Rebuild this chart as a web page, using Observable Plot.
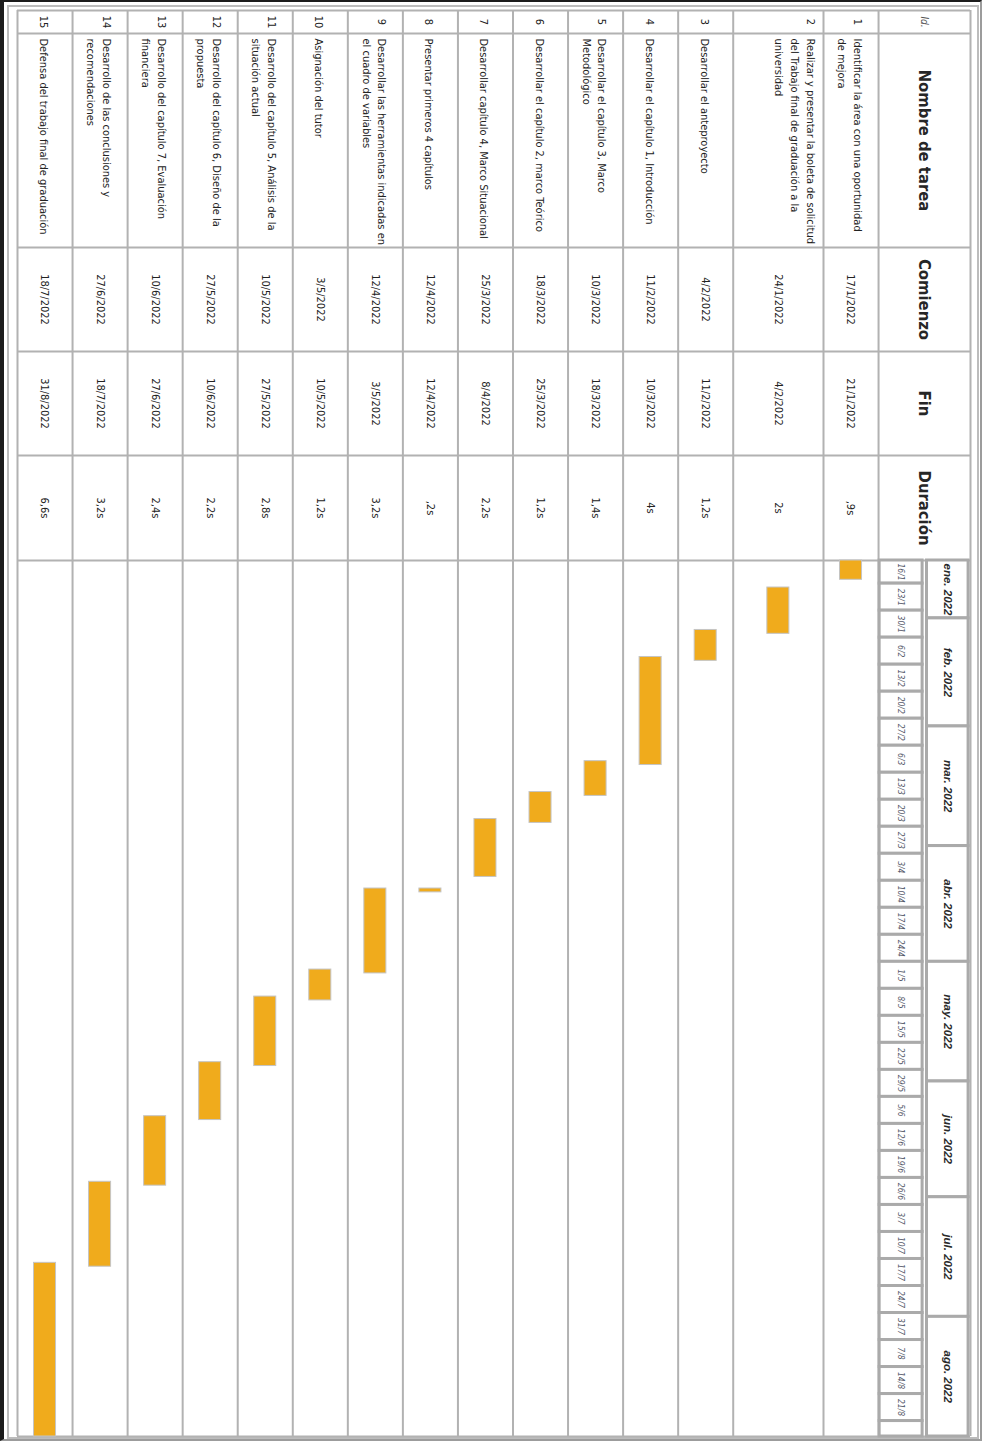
<!DOCTYPE html>
<html><head><meta charset="utf-8">
<script src="https://cdn.jsdelivr.net/npm/d3@7"></script>
<script src="https://cdn.jsdelivr.net/npm/@observablehq/plot@0.6"></script>
<style>
body{margin:0;background:#fff;}
#wrap{position:relative;width:984px;height:1441px;overflow:hidden;background:#fff;}
#wrap svg{position:absolute;left:0;top:0;}
.fr{position:absolute;box-sizing:border-box;}
</style></head><body><div id="wrap">
<div class="fr" style="left:0;top:0;width:982px;height:1441px;border-left:4px solid #1c1c1c;border-top:2px solid #1c1c1c;border-right:2px solid #9c9c9c;border-bottom:2px solid #9c9c9c;"></div>
<div class="fr" style="left:7px;top:5px;width:972px;height:1434px;border:2px solid #bcbcbc;"></div>
</div>
<script>
// ---------- data ----------
const ids = [1,2,3,4,5,6,7,8,9,10,11,12,13,14,15];
const taskNames = [
  "Identificar la área con una oportunidad\nde mejora",
  "Realizar y presentar la boleta de solicitud\ndel Trabajo final de graduación a la\nuniversidad",
  "Desarrollar el anteproyecto",
  "Desarrollar el capítulo 1, Introducción",
  "Desarrollar el capítulo 3, Marco\nMetodológico",
  "Desarrollar el capítulo 2, marco Teórico",
  "Desarrollar capítulo 4, Marco Situacional",
  "Presentar primeros 4 capítulos",
  "Desarrollar las herramientas indicadas en\nel cuadro de variables",
  "Asignación del tutor",
  "Desarrollo del capítulo 5, Análisis de la\nsituación actual",
  "Desarrollo del capítulo 6, Diseño de la\npropuesta",
  "Desarrollo del capítulo 7, Evaluación\nfinanciera",
  "Desarrollo de las conclusiones y\nrecomendaciones",
  "Defensa del trabajo final de graduación"
];
const startDates = ["17/1/2022","24/1/2022","4/2/2022","11/2/2022","10/3/2022","18/3/2022","25/3/2022","12/4/2022","12/4/2022","3/5/2022","10/5/2022","27/5/2022","10/6/2022","27/6/2022","18/7/2022"];
const endDates = ["21/1/2022","4/2/2022","11/2/2022","10/3/2022","18/3/2022","25/3/2022","8/4/2022","12/4/2022","3/5/2022","10/5/2022","27/5/2022","10/6/2022","27/6/2022","18/7/2022","31/8/2022"];
const durations = [",9s","2s","1,2s","4s","1,4s","1,2s","2,2s",",2s","3,2s","1,2s","2,8s","2,2s","2,4s","3,2s","6,6s"];
const columnHeaders = ["Id.", "Nombre de tarea", "Comienzo", "Fin", "Duración"];
const monthLabels = ["ene. 2022","feb. 2022","mar. 2022","abr. 2022","may. 2022","jun. 2022","jul. 2022","ago. 2022"];
const monthStarts = ["1/1/2022","1/2/2022","1/3/2022","1/4/2022","1/5/2022","1/6/2022","1/7/2022","1/8/2022"];
const weekLabels = ["16/1","23/1","30/1","6/2","13/2","20/2","27/2","6/3","13/3","20/3","27/3","3/4","10/4","17/4","24/4","1/5","8/5","15/5","22/5","29/5","5/6","12/6","19/6","26/6","3/7","10/7","17/7","24/7","31/7","7/8","14/8","21/8","28/8"];
const timelineRange = ["17/1/2022", "1/9/2022"];

// ---------- layout ----------
const colWidths = [23, 214, 104, 104, 105];
const headerSpan = 1.67, tallRowSpan = 1.64;
const FONT = '"Liberation Sans Narrow","DejaVu Sans Condensed","Arial Narrow",sans-serif';
const NARROW = '"Liberation Sans",Arial,sans-serif';
const GRID = "#b2b2b2";

const parse = s => { const [d, m, y] = s.split("/").map(Number); return new Date(Date.UTC(y, m - 1, d)); };
const t0 = parse(timelineRange[0]), t1 = parse(timelineRange[1]);
const clamp = d => d < t0 ? t0 : d > t1 ? t1 : d;

let acc = headerSpan;
const rows = ids.map((id, i) => {
  const lines = taskNames[i].split("\n").length;
  const span = lines > 2 ? tallRowSpan : 1;
  const r = {id, name: taskNames[i], lines, x0: acc, x1: acc + span,
    startLabel: startDates[i], endLabel: endDates[i], dur: durations[i],
    start: parse(startDates[i]), end: d3.utcDay.offset(parse(endDates[i]), 1)};
  acc += span;
  return r;
});
const totalUnits = acc;
const rowEdges = [0, headerSpan, ...rows.map(r => r.x1)];
const colEdges = colWidths.reduce((a, w) => (a.push(a[a.length - 1] + w), a), [0]);
const colCenters = colWidths.map((w, i) => colEdges[i] + w / 2);

const xScale = {domain: [0, totalUnits], reverse: true, axis: null};
const common = {width: 984, height: 1441, marginLeft: 17, marginRight: 14,
  style: {fontFamily: FONT, background: "transparent", overflow: "visible"}};

// ---------- table plot ----------
const table = Plot.plot({
  ...common, marginTop: 10, marginBottom: 881,
  x: xScale,
  y: {domain: [0, colEdges[colEdges.length - 1]], reverse: true, axis: null},
  marks: [
    Plot.ruleY(colEdges, {stroke: GRID, strokeWidth: 2}),
    Plot.ruleX(rowEdges, {stroke: GRID, strokeWidth: 2}),
    Plot.text([columnHeaders[0]], {x: () => headerSpan / 2, y: () => colCenters[0], text: d => d,
      rotate: 90, fontSize: 10, fontStyle: "italic", fill: "#555"}),
    Plot.text(columnHeaders.slice(1), {x: () => headerSpan / 2, y: (d, i) => colCenters[i + 1], text: d => d,
      rotate: 90, fontSize: 16.5, fontWeight: "bold", fill: "#262626"}),
    Plot.text(rows, {x: d => d.x0 + 0.5, y: () => colCenters[0], text: d => d.id + "\n".repeat(d.lines - 1),
      rotate: 90, fontSize: 11, lineHeight: 1.42, fill: "#222"}),
    Plot.text(rows, {x: d => d.x0 + 0.5, y: () => colEdges[1], dy: 5, text: "name",
      rotate: 90, textAnchor: "start", fontSize: 11, lineHeight: 1.42, fill: "#222"}),
    Plot.text(rows, {x: d => (d.x0 + d.x1) / 2, y: () => colCenters[2], text: "startLabel",
      rotate: 90, fontSize: 11, fill: "#222"}),
    Plot.text(rows, {x: d => (d.x0 + d.x1) / 2, y: () => colCenters[3], text: "endLabel",
      rotate: 90, fontSize: 11, fill: "#222"}),
    Plot.text(rows, {x: d => (d.x0 + d.x1) / 2, y: () => colCenters[4], text: "dur",
      rotate: 90, fontSize: 11, fill: "#222"})
  ]
});

// ---------- gantt plot ----------
const weeks = weekLabels.map((l, i) => {
  const [d, m] = l.split("/");
  const s = parse(`${d}/${m}/2022`);
  const e = d3.utcDay.offset(s, 7);
  return {label: l, s: clamp(s), e: clamp(e), full: e <= t1};
});
const months = monthLabels.map((l, i) => {
  const s = parse(monthStarts[i]);
  return {label: l, s: clamp(s), e: clamp(d3.utcMonth.offset(s, 1))};
});
const weekX = [0.87, headerSpan - 0.02], monthX = [0.035, 0.79];

const gantt = Plot.plot({
  ...common, marginTop: 560, marginBottom: 5,
  x: xScale,
  y: {type: "utc", domain: [t0, t1], reverse: true, axis: null},
  marks: [
    Plot.ruleX(rowEdges, {stroke: GRID, strokeWidth: 2}),
    Plot.ruleY([t1], {stroke: GRID, strokeWidth: 2}),
    Plot.rect(weeks, {x1: () => weekX[0], x2: () => weekX[1], y1: "s", y2: "e",
      fill: "white", stroke: "#aaaaaa", strokeWidth: 3}),
    Plot.text(weeks.filter(w => w.full), {x: () => (weekX[0] + weekX[1]) / 2, y: d => new Date((+d.s + +d.e) / 2),
      text: "label", rotate: 90, fontSize: 8.5, fontStyle: "italic", fill: "#55596a"}),
    Plot.rect(months, {x1: () => monthX[0], x2: () => monthX[1], y1: "s", y2: "e",
      fill: "white", stroke: "#aaaaaa", strokeWidth: 3}),
    Plot.text(months, {x: () => (monthX[0] + monthX[1]) / 2, y: d => new Date((+d.s + +d.e) / 2),
      text: "label", rotate: 90, fontSize: 11.5, fontFamily: NARROW, fontStyle: "italic", fontWeight: "bold", fill: "#2a2a2a"}),
    Plot.rect(rows, {x1: d => (d.x0 + d.x1) / 2 - 0.2, x2: d => (d.x0 + d.x1) / 2 + 0.2,
      y1: "start", y2: "end", fill: "#F0AB1C", stroke: "#c4c4c4", strokeWidth: 1})
  ]
});

const wrap = document.getElementById("wrap");
wrap.appendChild(table);
wrap.appendChild(gantt);
</script></body></html>
